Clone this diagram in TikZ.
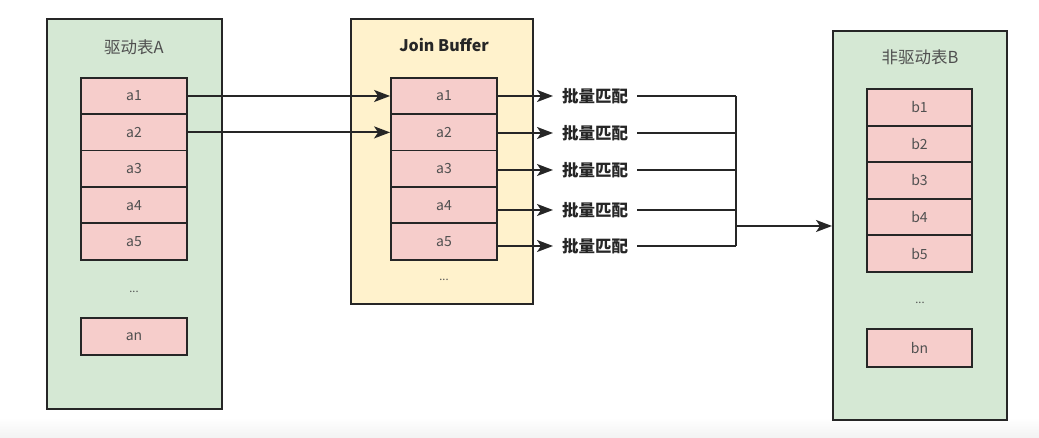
\documentclass[tikz,border=0pt]{standalone}
\usepackage{fontspec}
\setmainfont{Noto Sans CJK SC}
\usetikzlibrary{arrows.meta,calc}
\definecolor{gfill}{HTML}{D5E8D4}
\definecolor{pfill}{HTML}{F6CDCB}
\definecolor{yfill}{HTML}{FFF2CC}
\definecolor{edge}{HTML}{262626}
\definecolor{lbl}{HTML}{505050}
\tikzset{
  tablebox/.style={draw=edge, line width=2pt, inner sep=0pt},
  item/.style={draw=edge, fill=pfill, line width=1.8pt, minimum width=106, minimum height=36.4, inner sep=0pt, text=lbl, font=\fontsize{14}{16}\selectfont},
  ttl/.style={text=lbl, font=\fontsize{16.5}{19}\selectfont},
  dots/.style={text=lbl, font=\fontsize{11}{13}\selectfont},
  match/.style={anchor=west, inner xsep=9pt, inner ysep=2pt, text=edge, font=\fontsize{16.5}{19}\selectfont\bfseries},
  arr/.style={draw=edge, line width=2pt, -{Stealth[length=16pt,width=12pt,inset=4pt]}},
  wire/.style={draw=edge, line width=2pt}
}
\begin{document}
\begin{tikzpicture}[x=1pt,y=-1pt]
\useasboundingbox (0,0) rectangle (1039,438);
\shade[top color=white, bottom color=black!5] (0,418) rectangle (1039,438);
% table A
\node[tablebox, fill=gfill, minimum width=175, minimum height=390] (A) at (134.5,214) {};
\node[ttl] (At) at (134,47) {驱动表A};
\foreach \i in {1,...,5} {
  \node[item] (a\i) at (134,{96+36.4*(\i-1)}) {a\i};
}
\node[dots] (Ad) at (134,292) {...};
\node[item, minimum height=37] (an) at (134,336.5) {an};
% join buffer
\node[tablebox, fill=yfill, minimum width=182, minimum height=285] (J) at (442,161.5) {};
\node[ttl, text=edge, font=\fontsize{16}{19}\selectfont\bfseries] (Jt) at (444,45) {Join Buffer};
\foreach \i in {1,...,5} {
  \node[item] (j\i) at (444,{96+36.4*(\i-1)}) {a\i};
}
\node[dots] (Jd) at (444,280) {...};
% table B
\node[tablebox, fill=gfill, minimum width=174, minimum height=389] (B) at (920,225.5) {};
\node[ttl] (Bt) at (920,57) {非驱动表B};
\foreach \i in {1,...,5} {
  \node[item, minimum width=105] (b\i) at (919.5,{107.3+36.6*(\i-1)}) {b\i};
}
\node[dots] (Bd) at (920,303) {...};
\node[item, minimum width=105, minimum height=38] (bn) at (919.5,348) {bn};
% A -> join buffer
\draw[arr] (a1.east) -- (j1.west);
\draw[arr] (a2.east) -- (j2.west);
% match labels
\node[match] (m1) at (553,96) {批量匹配};
\node[match] (m2) at (553,133) {批量匹配};
\node[match] (m3) at (553,170) {批量匹配};
\node[match] (m4) at (553,210) {批量匹配};
\node[match] (m5) at (553,246) {批量匹配};
\foreach \i in {1,...,5} {
  \draw[arr] (j\i.east |- m\i.west) -- (m\i.west);
}
\coordinate (jn) at (736,226);
\foreach \i in {1,...,5} {
  \draw[wire] (m\i.east) -- (m\i.east -| jn);
}
\draw[wire] (m1.east -| jn) -- (m5.east -| jn);
\draw[arr] (jn) -- (jn -| B.west);
\end{tikzpicture}
\end{document}
